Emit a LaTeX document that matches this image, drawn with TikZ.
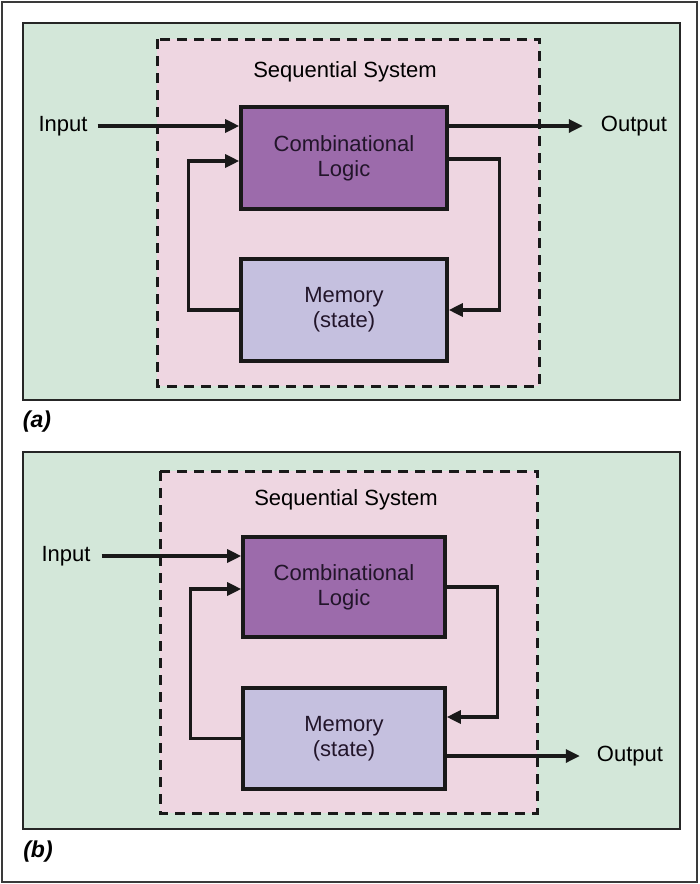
\documentclass[tikz,border=0pt]{standalone}
\usepackage{fontspec}
\setmainfont{Liberation Sans}
\usetikzlibrary{arrows.meta,calc}
\definecolor{bggreen}{HTML}{D3E7D9}
\definecolor{syspink}{HTML}{EED6E1}
\definecolor{combpurple}{HTML}{9C6BAB}
\definecolor{memlav}{HTML}{C5C0DF}
\definecolor{frame}{HTML}{3A3A3A}
\definecolor{boxtext}{HTML}{22152A}
\begin{document}
\begin{tikzpicture}[x=1pt,y=-1pt,
  txt/.style={font=\fontsize{22}{25}\selectfont, inner sep=2pt},
  panel/.style={draw=black!85, line width=2.2pt, fill=bggreen},
  sysbox/.style={draw=black!90, line width=3pt, fill=syspink, dash pattern=on 10pt off 7pt},
  blockbox/.style={draw=black!90, line width=3.6pt, align=center, text=boxtext,
     font=\fontsize{22}{25}\selectfont},
  arr/.style={draw=black!90, line width=3.2pt, -{Triangle[length=14pt,width=13pt]}},
  lbl/.style={font=\fontsize{23}{26}\selectfont\bfseries\itshape, inner sep=0pt}]
\useasboundingbox (0,0) rectangle (700,884);
\draw[frame, line width=2.4pt] (2,2) rectangle (697,882);

% ---------- panel (a) ----------
\draw[panel] (23,23) rectangle (680,400);
\draw[sysbox] (157,39) rectangle (539,386);
\node[txt] (seqA) at (345,72) {Sequential System};
\node[blockbox, fill=combpurple, minimum width=206pt, minimum height=102pt] (combA) at (344,158) {Combinational\\Logic};
\node[blockbox, fill=memlav, minimum width=206pt, minimum height=102pt] (memA) at (344,310) {Memory\\(state)};
\node[txt] (inA) at (63,126) {Input};
\node[txt] (outA) at (634,126) {Output};
\node[lbl] (labA) at (37,422) {(a)};
\draw[arr, shorten <=8pt] (inA.east) -- ([yshift=32pt]combA.west);
\draw[arr, shorten >=16pt] ([yshift=32pt]combA.east) -- (outA.west);
\draw[arr] (memA.west) -- ++(-51,0) |- ([yshift=-3pt]combA.west);
\draw[arr] ([yshift=-1pt]combA.east) -- ++(51,0) |- (memA.east);

% ---------- panel (b) ----------
\draw[panel] (23,452) rectangle (680,829);
\draw[sysbox] (160,471) rectangle (537,813);
\node[txt] (seqB) at (346,500) {Sequential System};
\node[blockbox, fill=combpurple, minimum width=202pt, minimum height=100pt] (combB) at (344,587) {Combinational\\Logic};
\node[blockbox, fill=memlav, minimum width=202pt, minimum height=101pt] (memB) at (344,738.5) {Memory\\(state)};
\node[txt] (inB) at (66,556) {Input};
\node[txt] (outB) at (630,756) {Output};
\node[lbl] (labB) at (38,852) {(b)};
\draw[arr, shorten <=9pt] (inB.east) -- ([yshift=31pt]combB.west);
\draw[arr] (memB.west) -- ++(-51,0) |- ([yshift=-2pt]combB.west);
\draw[arr] (combB.east) -- ++(51,0) |- ([yshift=21.5pt]memB.east);
\draw[arr, shorten >=15pt] ([yshift=-17.5pt]memB.east) -- (outB.west);
\end{tikzpicture}
\end{document}
